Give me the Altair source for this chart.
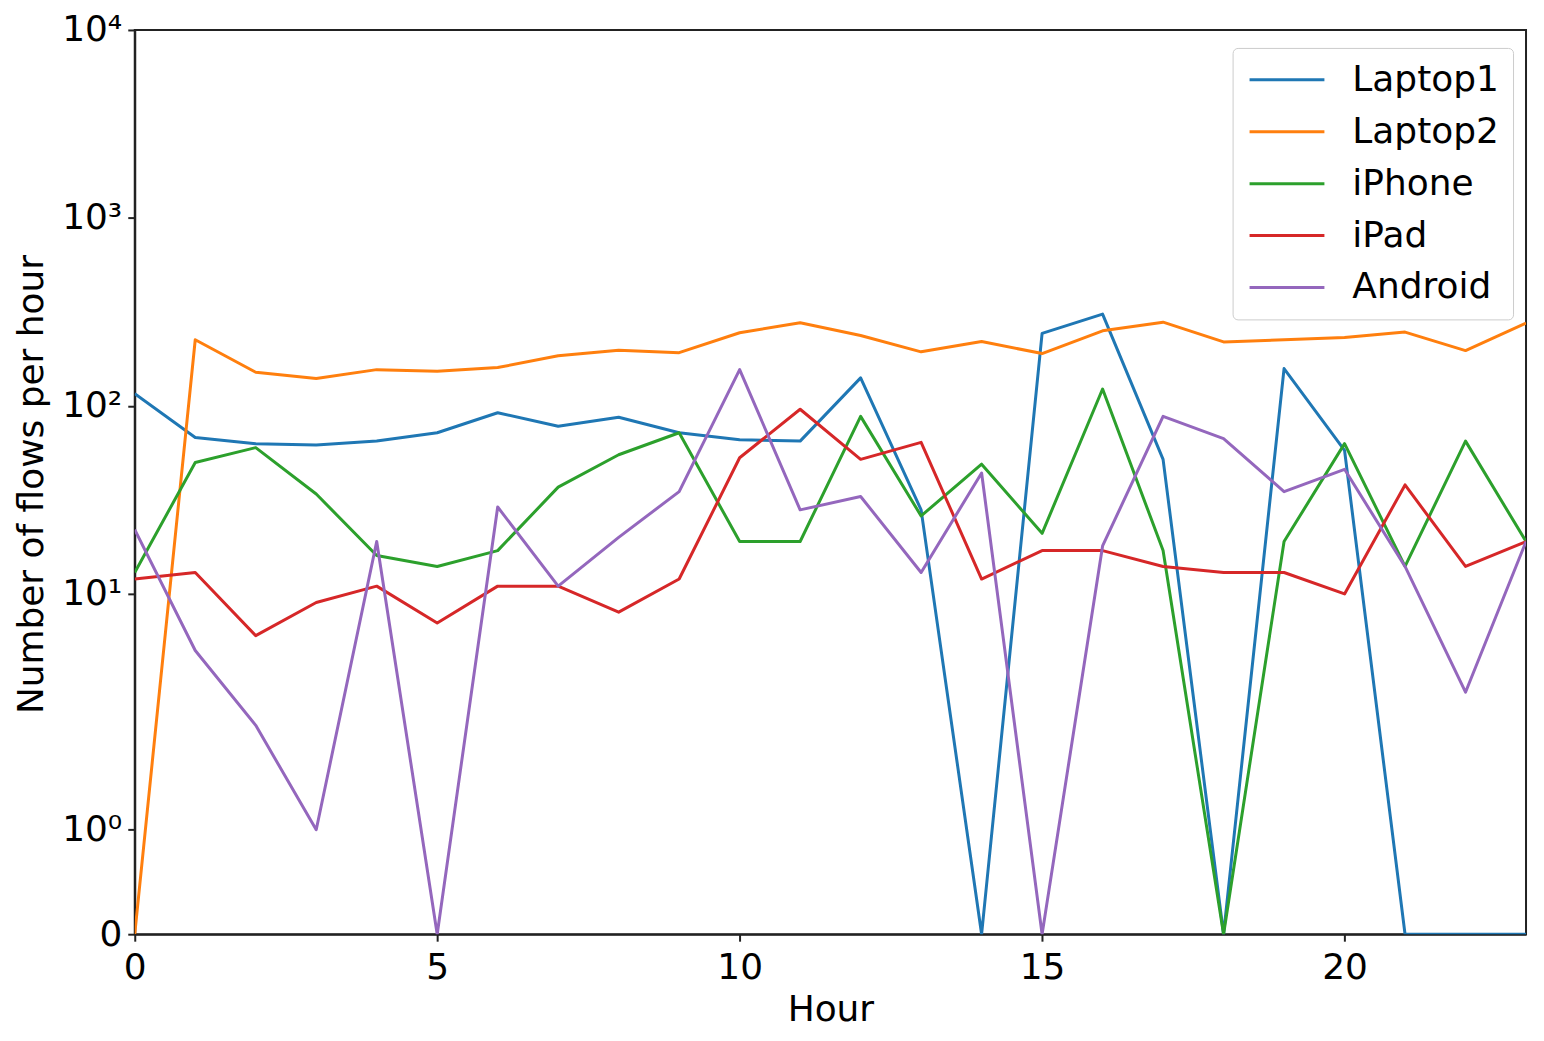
import math
import altair as alt
import pandas as pd

# ---------------- data ----------------
hours = list(range(24))
series_names = ["Laptop1", "Laptop2", "iPhone", "iPad", "Android"]
series_colors = ["#1f77b4", "#ff7f0e", "#2ca02c", "#d62728", "#9467bd"]

laptop1 = [116, 68, 63, 62, 65, 72, 92, 78, 87, 72, 66, 65, 141, 28, 0, 243, 308, 52, 0, 158, 58, 0, 0, 0]
laptop2 = [0, 225, 151, 140, 156, 153, 160, 185, 198, 192, 245, 277, 237, 194, 220, 190, 251, 279, 219, 225, 231, 247, 197, 276]
iphone = [13, 50, 60, 34, 16, 14, 17, 37, 55, 72, 19, 19, 88, 26, 49, 21, 123, 17, 0, 19, 63, 14, 65, 19]
ipad = [12, 13, 6, 9, 11, 7, 11, 11, 8, 12, 53, 96, 52, 64, 12, 17, 17, 14, 13, 13, 10, 38, 14, 19]
android = [22, 5, 2, 1, 19, 0, 29, 11, 20, 35, 156, 28, 33, 13, 44, 0, 18, 88, 67, 35, 46, 14, 3, 19]

x_tick_values = [0, 5, 10, 15, 20]
y_tick_values = [0, 1, 10, 100, 1000, 10000]
y_tick_labels = ["0", "10⁰", "10¹", "10²", "10³", "10⁴"]

x_title = "Hour"
y_title = "Number of flows per hour"

# ---------------- symlog (matplotlib style, linthresh=2, linscale=1) ----------------
LINTHRESH = 2.0
LINSCALE_ADJ = 1.0 / (1.0 - 1.0 / 10.0)


def symlog(v):
    if v <= LINTHRESH:
        return v * LINSCALE_ADJ
    return LINTHRESH * (LINSCALE_ADJ + math.log10(v / LINTHRESH))


y_tick_pos = [symlog(v) for v in y_tick_values]
y_max = y_tick_pos[-1]

# label expression mapping tick positions back to their labels
expr = "'" + y_tick_labels[-1] + "'"
for i in range(len(y_tick_pos) - 2, -1, -1):
    mid = (y_tick_pos[i] + y_tick_pos[i + 1]) / 2
    expr = f"datum.value < {mid:.4f} ? '{y_tick_labels[i]}' : ({expr})"

rows = []
for name, vals in zip(series_names, [laptop1, laptop2, iphone, ipad, android]):
    for h, v in zip(hours, vals):
        rows.append({"device": name, "hour": h, "flows": v})
df = pd.DataFrame(rows)

calc = (f"datum.flows <= {LINTHRESH} ? datum.flows * {LINSCALE_ADJ} : "
        f"{LINTHRESH} * ({LINSCALE_ADJ} + log(datum.flows / {LINTHRESH}) / LN10)")

FONT = "DejaVu Sans"
AX = "#222222"
LW = 3

chart = (
    alt.Chart(df)
    .transform_calculate(ys=calc)
    .mark_line(strokeWidth=LW, strokeJoin="round", clip=True)
    .encode(
        x=alt.X(
            "hour:Q",
            scale=alt.Scale(domain=[0, 23], nice=False, zero=False),
            axis=alt.Axis(
                values=x_tick_values,
                title=x_title,
                labelPadding=9,
                labelBaseline="top",
                labelFlush=False,
                titleY=86,
                titleBaseline="alphabetic",
                format="d",
            ),
        ),
        y=alt.Y(
            "ys:Q",
            scale=alt.Scale(domain=[0, y_max], nice=False),
            axis=alt.Axis(
                values=y_tick_pos,
                labelExpr=expr,
                title=y_title,
                labelPadding=6,
                labelFlush=False,
                titleX=-92,
                titleY=455,
                titleAngle=270,
                titleAlign="center",
                titleBaseline="alphabetic",
            ),
        ),
        color=alt.Color(
            "device:N",
            scale=alt.Scale(domain=series_names, range=series_colors),
            legend=alt.Legend(
                title=None,
                orient="none",
                legendX=1100,
                legendY=18,
                direction="vertical",
                symbolType="M-1,0L4,0",
                symbolSize=900,
                symbolStrokeWidth=LW,
                labelFontSize=36,
                labelOffset=70,
                labelColor="black",
                labelFont=FONT,
                labelLimit=400,
                rowPadding=16,
                padding=14,
                fillColor="white",
                strokeColor="#cccccc",
                cornerRadius=5,
            ),
        ),
    )
    .properties(
        width=1394,
        height=906,
        autosize=alt.AutoSizeParams(type="none"),
        padding={"left": 127, "top": 21, "right": 10, "bottom": 100},
    )
    .configure(font=FONT)
    .configure_view(stroke=AX, strokeWidth=2)
    .configure_axis(
        grid=False,
        labelFontSize=36,
        titleFontSize=36,
        titleFontWeight="normal",
        labelColor="black",
        titleColor="black",
        labelFont=FONT,
        titleFont=FONT,
        tickColor=AX,
        domainColor=AX,
        tickWidth=2,
        domainWidth=2,
        tickSize=7,
    )
)

chart.save("out.html", embed_options={"renderer": "svg", "actions": False})
